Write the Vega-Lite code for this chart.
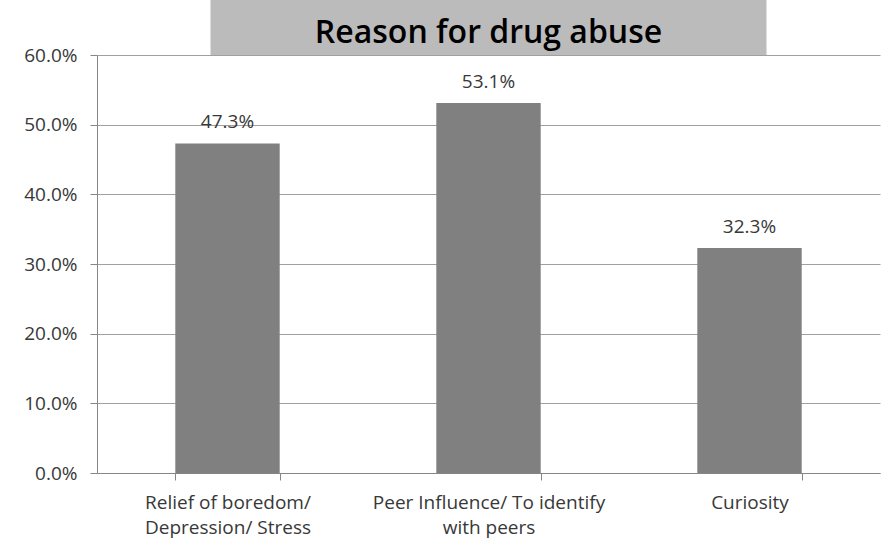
{
  "$schema": "https://vega.github.io/schema/vega-lite/v6.json",
  "padding": {"left": 23, "top": 0, "right": 10, "bottom": 10},
  "background": "white",
  "bounds": "flush",
  "center": true,
  "spacing": 0,
  "config": {
    "font": "Open Sans",
    "view": {"stroke": null},
    "axis": {"labelFont": "Open Sans", "labelFontSize": 19, "labelColor": "#383838"}
  },
  "vconcat": [
    {
      "width": 556,
      "height": 55,
      "view": {"fill": "#BBBBBB", "stroke": null},
      "data": {"values": [{"title": "Reason for drug abuse"}]},
      "mark": {"type": "text", "font": "Open Sans", "fontSize": 32, "fontWeight": 600, "color": "#000000", "baseline": "middle", "dy": 5},
      "encoding": {"text": {"field": "title", "type": "nominal"}}
    },
    {
      "width": 783,
      "height": 418,
      "data": {
        "values": [
          {"reason": "Relief of boredom/ Depression/ Stress", "pct": 0.473},
          {"reason": "Peer Influence/ To identify with peers", "pct": 0.531},
          {"reason": "Curiosity", "pct": 0.323}
        ]
      },
      "encoding": {
        "x": {
          "field": "reason",
          "type": "nominal",
          "sort": null,
          "scale": {"paddingInner": 0.6, "paddingOuter": 0.3},
          "axis": {
            "title": null,
            "labelAngle": 0,
            "labelLimit": 0,
            "tickBand": "extent",
            "tickSize": 7,
            "tickColor": "#868686",
            "domainColor": "#868686",
            "labelPadding": 13,
            "labelLineHeight": 25,
            "labelBaseline": "top",
            "labelExpr": "datum.label == 'Relief of boredom/ Depression/ Stress' ? ['Relief of boredom/', 'Depression/ Stress'] : datum.label == 'Peer Influence/ To identify with peers' ? ['Peer Influence/ To identify', 'with peers'] : datum.label"
          }
        },
        "y": {
          "field": "pct",
          "type": "quantitative",
          "scale": {"domain": [0, 0.6], "nice": false},
          "axis": {
            "title": null,
            "format": ".1%",
            "values": [0, 0.1, 0.2, 0.3, 0.4, 0.5, 0.6],
            "grid": true,
            "gridColor": "#A0A0A0",
            "tickSize": 7,
            "tickColor": "#868686",
            "domainColor": "#868686",
            "labelPadding": 13
          }
        }
      },
      "layer": [
        {"mark": {"type": "bar", "color": "#808080"}},
        {
          "mark": {"type": "text", "baseline": "alphabetic", "dy": -15, "fontSize": 19, "color": "#383838"},
          "encoding": {"text": {"field": "pct", "type": "quantitative", "format": ".1%"}}
        }
      ]
    }
  ]
}
